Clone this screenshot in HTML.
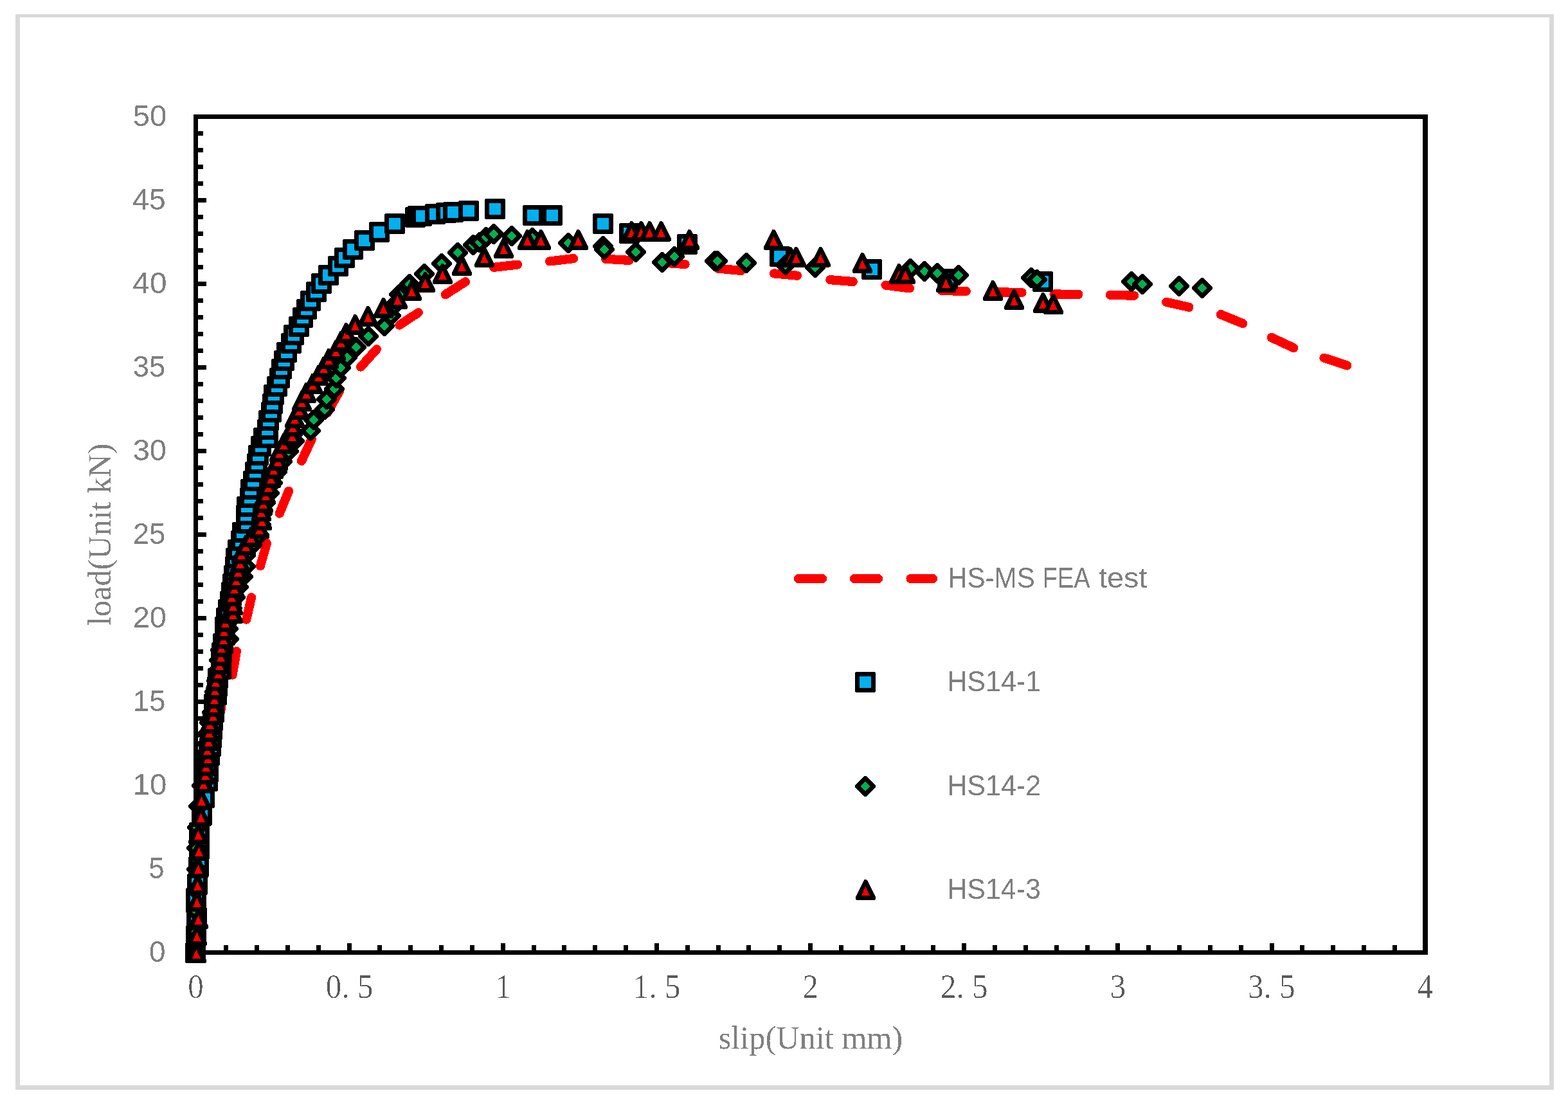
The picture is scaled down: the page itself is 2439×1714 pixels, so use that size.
<!DOCTYPE html>
<html lang="en">
<head>
<meta charset="utf-8">
<title>Load-slip curves: HS-MS FEA test vs HS14 specimens</title>
<style>
html,body{margin:0;padding:0;background:#fff;}
body{width:2439px;height:1714px;overflow:hidden;}
svg{display:block;}
</style>
</head>
<body>
<svg width="2439" height="1714" viewBox="0 0 2439 1714" role="img" aria-label="Load-slip curves">
<defs><filter id="bw" x="-5%" y="-20%" width="110%" height="140%" color-interpolation-filters="sRGB"><feComponentTransfer><feFuncA type="discrete" tableValues="0 1"/></feComponentTransfer></filter><filter id="bw2" x="-5%" y="-20%" width="110%" height="140%" color-interpolation-filters="sRGB"><feComponentTransfer><feFuncA type="discrete" tableValues="0 0 0 1"/></feComponentTransfer></filter></defs>
<rect width="2439" height="1714" fill="#fff"/>
<g fill="#d9d9d9" shape-rendering="crispEdges">
<rect x="24" y="22" width="2393" height="5"/>
<rect x="24" y="1688" width="2393" height="7"/>
<rect x="24" y="22" width="7" height="1673"/>
<rect x="2410" y="22" width="7" height="1673"/>
</g>
<g id="fea" fill="#f00" shape-rendering="crispEdges">
<path d="M344.9 1135.8L351.5 1099.3A7.1 7.1 0 0 0 337.5 1096.7L330.9 1133.2A7.1 7.1 0 0 0 344.9 1135.8Z"/>
<path d="M368.5 1050.9L374.9 1014.1A7.1 7.1 0 0 0 360.9 1011.7L354.5 1048.5A7.1 7.1 0 0 0 368.5 1050.9Z"/>
<path d="M390.0 965.6L398.1 930.2A7.1 7.1 0 0 0 384.3 927.0L376.2 962.4A7.1 7.1 0 0 0 390.0 965.6Z"/>
<path d="M411.7 882.3L421.8 846.9A7.1 7.1 0 0 0 408.1 843.0L398.0 878.4A7.1 7.1 0 0 0 411.7 882.3Z"/>
<path d="M441.4 801.2L455.7 766.4A7.1 7.1 0 0 0 442.5 761.0L428.2 795.8A7.1 7.1 0 0 0 441.4 801.2Z"/>
<path d="M475.3 720.3L491.3 686.0A7.1 7.1 0 0 0 478.5 679.9L462.5 714.2A7.1 7.1 0 0 0 475.3 720.3Z"/>
<path d="M515.5 645.4L534.0 612.0A7.1 7.1 0 0 0 521.5 605.1L503.0 638.5A7.1 7.1 0 0 0 515.5 645.4Z"/>
<path d="M566.0 575.8L591.4 547.6A7.1 7.1 0 0 0 580.9 538.1L555.5 566.3A7.1 7.1 0 0 0 566.0 575.8Z"/>
<path d="M624.8 511.9L655.1 491.8A7.1 7.1 0 0 0 647.3 480.0L617.0 500.1A7.1 7.1 0 0 0 624.8 511.9Z"/>
<path d="M696.6 464.1L727.8 444.2A7.1 7.1 0 0 0 720.2 432.2L689.0 452.1A7.1 7.1 0 0 0 696.6 464.1Z"/>
<path d="M768.6 422.9L806.1 418.6A7.1 7.1 0 0 0 804.5 404.5L767.0 408.8A7.1 7.1 0 0 0 768.6 422.9Z"/>
<path d="M855.5 413.5L893.1 409.1A7.1 7.1 0 0 0 891.5 395.0L853.9 399.4A7.1 7.1 0 0 0 855.5 413.5Z"/>
<path d="M941.6 409.8L978.2 412.0A7.1 7.1 0 0 0 979.0 397.8L942.4 395.6A7.1 7.1 0 0 0 941.6 409.8Z"/>
<path d="M1028.3 415.5L1065.8 418.1A7.1 7.1 0 0 0 1066.8 404.0L1029.3 401.4A7.1 7.1 0 0 0 1028.3 415.5Z"/>
<path d="M1115.3 424.5L1152.8 428.1A7.1 7.1 0 0 0 1154.2 414.0L1116.7 410.4A7.1 7.1 0 0 0 1115.3 424.5Z"/>
<path d="M1203.0 432.4L1239.8 435.8A7.1 7.1 0 0 0 1241.1 421.7L1204.3 418.3A7.1 7.1 0 0 0 1203.0 432.4Z"/>
<path d="M1290.2 442.2L1326.9 445.1A7.1 7.1 0 0 0 1328.1 431.0L1291.4 428.1A7.1 7.1 0 0 0 1290.2 442.2Z"/>
<path d="M1376.6 450.6L1414.0 455.4A7.1 7.1 0 0 0 1415.8 441.3L1378.4 436.5A7.1 7.1 0 0 0 1376.6 450.6Z"/>
<path d="M1464.7 459.1L1502.6 460.0A7.1 7.1 0 0 0 1503.0 445.8L1465.1 444.9A7.1 7.1 0 0 0 1464.7 459.1Z"/>
<path d="M1552.1 461.4L1589.4 462.1A7.1 7.1 0 0 0 1589.6 447.9L1552.3 447.2A7.1 7.1 0 0 0 1552.1 461.4Z"/>
<path d="M1639.4 464.6L1677.4 465.0A7.1 7.1 0 0 0 1677.6 450.8L1639.6 450.4A7.1 7.1 0 0 0 1639.4 464.6Z"/>
<path d="M1726.8 465.9L1763.9 466.8A7.1 7.1 0 0 0 1764.3 452.6L1727.2 451.7A7.1 7.1 0 0 0 1726.8 465.9Z"/>
<path d="M1811.9 476.6L1848.5 484.8A7.1 7.1 0 0 0 1851.6 471.0L1815.0 462.8A7.1 7.1 0 0 0 1811.9 476.6Z"/>
<path d="M1896.3 495.7L1930.5 509.7A7.1 7.1 0 0 0 1935.8 496.5L1901.6 482.5A7.1 7.1 0 0 0 1896.3 495.7Z"/>
<path d="M1974.5 531.3L2009.5 547.6A7.1 7.1 0 0 0 2015.4 534.7L1980.4 518.4A7.1 7.1 0 0 0 1974.5 531.3Z"/>
<path d="M2057.2 563.4L2093.3 575.2A7.1 7.1 0 0 0 2097.7 561.7L2061.6 549.9A7.1 7.1 0 0 0 2057.2 563.4Z"/>
</g>
<g id="axes" fill="#000" shape-rendering="crispEdges">
<rect x="301" y="178" width="7" height="1307"/>
<rect x="2213" y="178" width="8" height="1307"/>
<rect x="301" y="178" width="1920" height="7"/>
<rect x="301" y="1478" width="1920" height="7"/>
<rect x="308" y="1452" width="8" height="7"/>
<rect x="308" y="1426" width="8" height="7"/>
<rect x="308" y="1400" width="8" height="7"/>
<rect x="308" y="1374" width="8" height="7"/>
<rect x="308" y="1348" width="12.5" height="7"/>
<rect x="308" y="1322" width="8" height="7"/>
<rect x="308" y="1296" width="8" height="7"/>
<rect x="308" y="1270" width="8" height="7"/>
<rect x="308" y="1244" width="8" height="7"/>
<rect x="308" y="1218" width="12.5" height="7"/>
<rect x="308" y="1192" width="8" height="7"/>
<rect x="308" y="1166" width="8" height="7"/>
<rect x="308" y="1140" width="8" height="7"/>
<rect x="308" y="1114" width="8" height="7"/>
<rect x="308" y="1088" width="12.5" height="7"/>
<rect x="308" y="1062" width="8" height="7"/>
<rect x="308" y="1036" width="8" height="7"/>
<rect x="308" y="1010" width="8" height="7"/>
<rect x="308" y="984" width="8" height="7"/>
<rect x="308" y="958" width="12.5" height="7"/>
<rect x="308" y="932" width="8" height="7"/>
<rect x="308" y="906" width="8" height="7"/>
<rect x="308" y="880" width="8" height="7"/>
<rect x="308" y="854" width="8" height="7"/>
<rect x="308" y="828" width="12.5" height="7"/>
<rect x="308" y="802" width="8" height="7"/>
<rect x="308" y="776" width="8" height="7"/>
<rect x="308" y="750" width="8" height="7"/>
<rect x="308" y="724" width="8" height="7"/>
<rect x="308" y="698" width="12.5" height="7"/>
<rect x="308" y="672" width="8" height="7"/>
<rect x="308" y="646" width="8" height="7"/>
<rect x="308" y="620" width="8" height="7"/>
<rect x="308" y="594" width="8" height="7"/>
<rect x="308" y="568" width="12.5" height="7"/>
<rect x="308" y="542" width="8" height="7"/>
<rect x="308" y="516" width="8" height="7"/>
<rect x="308" y="490" width="8" height="7"/>
<rect x="308" y="464" width="8" height="7"/>
<rect x="308" y="438" width="12.5" height="7"/>
<rect x="308" y="412" width="8" height="7"/>
<rect x="308" y="386" width="8" height="7"/>
<rect x="308" y="360" width="8" height="7"/>
<rect x="308" y="334" width="8" height="7"/>
<rect x="308" y="308" width="12.5" height="7"/>
<rect x="308" y="282" width="8" height="7"/>
<rect x="308" y="256" width="8" height="7"/>
<rect x="308" y="230" width="8" height="7"/>
<rect x="308" y="204" width="8" height="7"/>
<rect x="348" y="1470" width="7" height="8"/>
<rect x="396" y="1470" width="7" height="8"/>
<rect x="444" y="1470" width="7" height="8"/>
<rect x="492" y="1470" width="7" height="8"/>
<rect x="540" y="1467" width="7" height="11"/>
<rect x="587" y="1470" width="7" height="8"/>
<rect x="635" y="1470" width="7" height="8"/>
<rect x="683" y="1470" width="7" height="8"/>
<rect x="731" y="1470" width="7" height="8"/>
<rect x="779" y="1467" width="7" height="11"/>
<rect x="827" y="1470" width="7" height="8"/>
<rect x="874" y="1470" width="7" height="8"/>
<rect x="922" y="1470" width="7" height="8"/>
<rect x="970" y="1470" width="7" height="8"/>
<rect x="1018" y="1467" width="7" height="11"/>
<rect x="1066" y="1470" width="7" height="8"/>
<rect x="1114" y="1470" width="7" height="8"/>
<rect x="1161" y="1470" width="7" height="8"/>
<rect x="1209" y="1470" width="7" height="8"/>
<rect x="1257" y="1467" width="7" height="11"/>
<rect x="1305" y="1470" width="7" height="8"/>
<rect x="1353" y="1470" width="7" height="8"/>
<rect x="1401" y="1470" width="7" height="8"/>
<rect x="1448" y="1470" width="7" height="8"/>
<rect x="1496" y="1467" width="7" height="11"/>
<rect x="1544" y="1470" width="7" height="8"/>
<rect x="1592" y="1470" width="7" height="8"/>
<rect x="1640" y="1470" width="7" height="8"/>
<rect x="1688" y="1470" width="7" height="8"/>
<rect x="1735" y="1467" width="7" height="11"/>
<rect x="1783" y="1470" width="7" height="8"/>
<rect x="1831" y="1470" width="7" height="8"/>
<rect x="1879" y="1470" width="7" height="8"/>
<rect x="1927" y="1470" width="7" height="8"/>
<rect x="1975" y="1467" width="7" height="11"/>
<rect x="2022" y="1470" width="7" height="8"/>
<rect x="2070" y="1470" width="7" height="8"/>
<rect x="2118" y="1470" width="7" height="8"/>
<rect x="2166" y="1470" width="7" height="8"/>
</g>
<g id="s1" fill="#00b0f0" stroke="#000" stroke-width="7" stroke-linejoin="round" shape-rendering="crispEdges">
<path d="M291.4 1469.3h25.3v25.3h-25.3z"/>
<path d="M292.4 1442.3h25.3v25.3h-25.3z"/>
<path d="M293.4 1415.3h25.3v25.3h-25.3z"/>
<path d="M292.4 1388.3h25.3v25.3h-25.3z"/>
<path d="M294.4 1362.3h25.3v25.3h-25.3z"/>
<path d="M296.4 1335.3h25.3v25.3h-25.3z"/>
<path d="M297.4 1308.3h25.3v25.3h-25.3z"/>
<path d="M297.4 1282.3h25.3v25.3h-25.3z"/>
<path d="M301.4 1255.3h25.3v25.3h-25.3z"/>
<path d="M305.4 1228.3h25.3v25.3h-25.3z"/>
<path d="M310.4 1202.3h25.3v25.3h-25.3z"/>
<path d="M311.4 1188.3h25.3v25.3h-25.3z"/>
<path d="M311.4 1175.3h25.3v25.3h-25.3z"/>
<path d="M313.4 1162.3h25.3v25.3h-25.3z"/>
<path d="M315.4 1148.3h25.3v25.3h-25.3z"/>
<path d="M316.4 1135.3h25.3v25.3h-25.3z"/>
<path d="M317.4 1122.3h25.3v25.3h-25.3z"/>
<path d="M318.4 1108.3h25.3v25.3h-25.3z"/>
<path d="M320.4 1095.3h25.3v25.3h-25.3z"/>
<path d="M320.4 1082.3h25.3v25.3h-25.3z"/>
<path d="M324.4 1068.3h25.3v25.3h-25.3z"/>
<path d="M325.4 1055.3h25.3v25.3h-25.3z"/>
<path d="M326.4 1042.3h25.3v25.3h-25.3z"/>
<path d="M331.4 1028.3h25.3v25.3h-25.3z"/>
<path d="M331.4 1015.4h25.3v25.3h-25.3z"/>
<path d="M332.4 1002.4h25.3v25.3h-25.3z"/>
<path d="M334.4 988.4h25.3v25.3h-25.3z"/>
<path d="M337.4 975.4h25.3v25.3h-25.3z"/>
<path d="M337.4 962.4h25.3v25.3h-25.3z"/>
<path d="M339.4 948.4h25.3v25.3h-25.3z"/>
<path d="M342.4 935.4h25.3v25.3h-25.3z"/>
<path d="M345.4 922.4h25.3v25.3h-25.3z"/>
<path d="M347.4 908.4h25.3v25.3h-25.3z"/>
<path d="M349.4 895.4h25.3v25.3h-25.3z"/>
<path d="M351.4 882.4h25.3v25.3h-25.3z"/>
<path d="M353.4 868.4h25.3v25.3h-25.3z"/>
<path d="M354.4 855.4h25.3v25.3h-25.3z"/>
<path d="M357.4 842.4h25.3v25.3h-25.3z"/>
<path d="M362.4 828.4h25.3v25.3h-25.3z"/>
<path d="M364.4 815.4h25.3v25.3h-25.3z"/>
<path d="M371.4 801.4h25.3v25.3h-25.3z"/>
<path d="M370.4 788.4h25.3v25.3h-25.3z"/>
<path d="M371.4 775.4h25.3v25.3h-25.3z"/>
<path d="M376.4 761.4h25.3v25.3h-25.3z"/>
<path d="M377.4 748.4h25.3v25.3h-25.3z"/>
<path d="M381.4 735.4h25.3v25.3h-25.3z"/>
<path d="M384.4 721.4h25.3v25.3h-25.3z"/>
<path d="M387.4 708.4h25.3v25.3h-25.3z"/>
<path d="M389.4 695.4h25.3v25.3h-25.3z"/>
<path d="M393.4 681.4h25.3v25.3h-25.3z"/>
<path d="M397.4 668.4h25.3v25.3h-25.3z"/>
<path d="M404.4 668.4h25.3v25.3h-25.3z"/>
<path d="M403.4 655.4h25.3v25.3h-25.3z"/>
<path d="M405.4 641.4h25.3v25.3h-25.3z"/>
<path d="M409.4 628.4h25.3v25.3h-25.3z"/>
<path d="M411.4 615.4h25.3v25.3h-25.3z"/>
<path d="M413.4 601.4h25.3v25.3h-25.3z"/>
<path d="M418.4 588.4h25.3v25.3h-25.3z"/>
<path d="M422.4 575.4h25.3v25.3h-25.3z"/>
<path d="M425.4 561.4h25.3v25.3h-25.3z"/>
<path d="M429.4 548.4h25.3v25.3h-25.3z"/>
<path d="M433.4 535.4h25.3v25.3h-25.3z"/>
<path d="M440.4 521.4h25.3v25.3h-25.3z"/>
<path d="M444.4 508.4h25.3v25.3h-25.3z"/>
<path d="M452.4 495.4h25.3v25.3h-25.3z"/>
<path d="M458.4 481.4h25.3v25.3h-25.3z"/>
<path d="M464.4 468.4h25.3v25.3h-25.3z"/>
<path d="M470.4 455.4h25.3v25.3h-25.3z"/>
<path d="M479.4 441.4h25.3v25.3h-25.3z"/>
<path d="M487.4 428.4h25.3v25.3h-25.3z"/>
<path d="M498.4 415.4h25.3v25.3h-25.3z"/>
<path d="M513.4 401.4h25.3v25.3h-25.3z"/>
<path d="M523.4 388.4h25.3v25.3h-25.3z"/>
<path d="M536.4 375.4h25.3v25.3h-25.3z"/>
<path d="M554.4 361.4h25.3v25.3h-25.3z"/>
<path d="M577.4 348.4h25.3v25.3h-25.3z"/>
<path d="M601.4 335.4h25.3v25.3h-25.3z"/>
<path d="M633.4 325.4h25.3v25.3h-25.3z"/>
<path d="M637.4 323.4h25.3v25.3h-25.3z"/>
<path d="M643.4 323.4h25.3v25.3h-25.3z"/>
<path d="M664.4 320.4h25.3v25.3h-25.3z"/>
<path d="M681.4 318.4h25.3v25.3h-25.3z"/>
<path d="M692.4 317.4h25.3v25.3h-25.3z"/>
<path d="M716.4 315.4h25.3v25.3h-25.3z"/>
<path d="M757.4 312.4h25.3v25.3h-25.3z"/>
<path d="M816.4 322.4h25.3v25.3h-25.3z"/>
<path d="M846.4 322.4h25.3v25.3h-25.3z"/>
<path d="M925.4 335.4h25.3v25.3h-25.3z"/>
<path d="M966.4 350.4h25.3v25.3h-25.3z"/>
<path d="M1056.3 367.4h25.3v25.3h-25.3z"/>
<path d="M1200.3 386.4h25.3v25.3h-25.3z"/>
<path d="M1343.3 406.4h25.3v25.3h-25.3z"/>
<path d="M1461.3 421.4h25.3v25.3h-25.3z"/>
<path d="M1609.3 425.4h25.3v25.3h-25.3z"/>
</g>
<g id="s2" fill="#00b050" stroke="#000" stroke-width="7" stroke-linejoin="round" shape-rendering="crispEdges">
<path d="M304 1469.3l12.7 12.7l-12.7 12.7l-12.7 -12.7z"/>
<path d="M305 1436.3l12.7 12.7l-12.7 12.7l-12.7 -12.7z"/>
<path d="M305 1404.3l12.7 12.7l-12.7 12.7l-12.7 -12.7z"/>
<path d="M305 1371.3l12.7 12.7l-12.7 12.7l-12.7 -12.7z"/>
<path d="M306 1339.3l12.7 12.7l-12.7 12.7l-12.7 -12.7z"/>
<path d="M306 1306.3l12.7 12.7l-12.7 12.7l-12.7 -12.7z"/>
<path d="M307 1274.3l12.7 12.7l-12.7 12.7l-12.7 -12.7z"/>
<path d="M309 1241.3l12.7 12.7l-12.7 12.7l-12.7 -12.7z"/>
<path d="M314 1209.3l12.7 12.7l-12.7 12.7l-12.7 -12.7z"/>
<path d="M318 1176.3l12.7 12.7l-12.7 12.7l-12.7 -12.7z"/>
<path d="M322 1144.3l12.7 12.7l-12.7 12.7l-12.7 -12.7z"/>
<path d="M324 1127.3l12.7 12.7l-12.7 12.7l-12.7 -12.7z"/>
<path d="M326 1111.3l12.7 12.7l-12.7 12.7l-12.7 -12.7z"/>
<path d="M330 1095.3l12.7 12.7l-12.7 12.7l-12.7 -12.7z"/>
<path d="M332 1079.3l12.7 12.7l-12.7 12.7l-12.7 -12.7z"/>
<path d="M334 1063.3l12.7 12.7l-12.7 12.7l-12.7 -12.7z"/>
<path d="M337 1046.3l12.7 12.7l-12.7 12.7l-12.7 -12.7z"/>
<path d="M339 1030.3l12.7 12.7l-12.7 12.7l-12.7 -12.7z"/>
<path d="M341 1014.4l12.7 12.7l-12.7 12.7l-12.7 -12.7z"/>
<path d="M343 998.4l12.7 12.7l-12.7 12.7l-12.7 -12.7z"/>
<path d="M356 981.4l12.7 12.7l-12.7 12.7l-12.7 -12.7z"/>
<path d="M355 965.4l12.7 12.7l-12.7 12.7l-12.7 -12.7z"/>
<path d="M360 949.4l12.7 12.7l-12.7 12.7l-12.7 -12.7z"/>
<path d="M361 933.4l12.7 12.7l-12.7 12.7l-12.7 -12.7z"/>
<path d="M366 916.4l12.7 12.7l-12.7 12.7l-12.7 -12.7z"/>
<path d="M371 900.4l12.7 12.7l-12.7 12.7l-12.7 -12.7z"/>
<path d="M378 884.4l12.7 12.7l-12.7 12.7l-12.7 -12.7z"/>
<path d="M382 868.4l12.7 12.7l-12.7 12.7l-12.7 -12.7z"/>
<path d="M382 851.4l12.7 12.7l-12.7 12.7l-12.7 -12.7z"/>
<path d="M392 835.4l12.7 12.7l-12.7 12.7l-12.7 -12.7z"/>
<path d="M403 819.4l12.7 12.7l-12.7 12.7l-12.7 -12.7z"/>
<path d="M406 803.4l12.7 12.7l-12.7 12.7l-12.7 -12.7z"/>
<path d="M408 786.4l12.7 12.7l-12.7 12.7l-12.7 -12.7z"/>
<path d="M412 770.4l12.7 12.7l-12.7 12.7l-12.7 -12.7z"/>
<path d="M419 754.4l12.7 12.7l-12.7 12.7l-12.7 -12.7z"/>
<path d="M424 738.4l12.7 12.7l-12.7 12.7l-12.7 -12.7z"/>
<path d="M431 721.4l12.7 12.7l-12.7 12.7l-12.7 -12.7z"/>
<path d="M439 705.4l12.7 12.7l-12.7 12.7l-12.7 -12.7z"/>
<path d="M449 689.4l12.7 12.7l-12.7 12.7l-12.7 -12.7z"/>
<path d="M458 673.4l12.7 12.7l-12.7 12.7l-12.7 -12.7z"/>
<path d="M483 657.4l12.7 12.7l-12.7 12.7l-12.7 -12.7z"/>
<path d="M488 640.4l12.7 12.7l-12.7 12.7l-12.7 -12.7z"/>
<path d="M505 624.4l12.7 12.7l-12.7 12.7l-12.7 -12.7z"/>
<path d="M508 608.4l12.7 12.7l-12.7 12.7l-12.7 -12.7z"/>
<path d="M520 592.4l12.7 12.7l-12.7 12.7l-12.7 -12.7z"/>
<path d="M523 575.4l12.7 12.7l-12.7 12.7l-12.7 -12.7z"/>
<path d="M530 559.4l12.7 12.7l-12.7 12.7l-12.7 -12.7z"/>
<path d="M540 543.4l12.7 12.7l-12.7 12.7l-12.7 -12.7z"/>
<path d="M554 527.4l12.7 12.7l-12.7 12.7l-12.7 -12.7z"/>
<path d="M573 510.4l12.7 12.7l-12.7 12.7l-12.7 -12.7z"/>
<path d="M598 494.4l12.7 12.7l-12.7 12.7l-12.7 -12.7z"/>
<path d="M608 478.4l12.7 12.7l-12.7 12.7l-12.7 -12.7z"/>
<path d="M613 462.4l12.7 12.7l-12.7 12.7l-12.7 -12.7z"/>
<path d="M621 445.4l12.7 12.7l-12.7 12.7l-12.7 -12.7z"/>
<path d="M637 429.4l12.7 12.7l-12.7 12.7l-12.7 -12.7z"/>
<path d="M660 413.4l12.7 12.7l-12.7 12.7l-12.7 -12.7z"/>
<path d="M687 397.4l12.7 12.7l-12.7 12.7l-12.7 -12.7z"/>
<path d="M712 380.4l12.7 12.7l-12.7 12.7l-12.7 -12.7z"/>
<path d="M736 368.4l12.7 12.7l-12.7 12.7l-12.7 -12.7z"/>
<path d="M746 364.4l12.7 12.7l-12.7 12.7l-12.7 -12.7z"/>
<path d="M756 356.4l12.7 12.7l-12.7 12.7l-12.7 -12.7z"/>
<path d="M768 351.4l12.7 12.7l-12.7 12.7l-12.7 -12.7z"/>
<path d="M796 354.4l12.7 12.7l-12.7 12.7l-12.7 -12.7z"/>
<path d="M828 357.4l12.7 12.7l-12.7 12.7l-12.7 -12.7z"/>
<path d="M884 365.4l12.7 12.7l-12.7 12.7l-12.7 -12.7z"/>
<path d="M938 370.4l12.7 12.7l-12.7 12.7l-12.7 -12.7z"/>
<path d="M940 375.4l12.7 12.7l-12.7 12.7l-12.7 -12.7z"/>
<path d="M989 379.4l12.7 12.7l-12.7 12.7l-12.7 -12.7z"/>
<path d="M1030 395.4l12.7 12.7l-12.7 12.7l-12.7 -12.7z"/>
<path d="M1049 386.4l12.7 12.7l-12.7 12.7l-12.7 -12.7z"/>
<path d="M1112 393.4l12.7 12.7l-12.7 12.7l-12.7 -12.7z"/>
<path d="M1116 393.4l12.7 12.7l-12.7 12.7l-12.7 -12.7z"/>
<path d="M1161 396.4l12.7 12.7l-12.7 12.7l-12.7 -12.7z"/>
<path d="M1222 399.4l12.7 12.7l-12.7 12.7l-12.7 -12.7z"/>
<path d="M1268 403.4l12.7 12.7l-12.7 12.7l-12.7 -12.7z"/>
<path d="M1416 405.4l12.7 12.7l-12.7 12.7l-12.7 -12.7z"/>
<path d="M1438 409.4l12.7 12.7l-12.7 12.7l-12.7 -12.7z"/>
<path d="M1458 412.4l12.7 12.7l-12.7 12.7l-12.7 -12.7z"/>
<path d="M1491 415.4l12.7 12.7l-12.7 12.7l-12.7 -12.7z"/>
<path d="M1604 419.4l12.7 12.7l-12.7 12.7l-12.7 -12.7z"/>
<path d="M1613 422.4l12.7 12.7l-12.7 12.7l-12.7 -12.7z"/>
<path d="M1760 425.4l12.7 12.7l-12.7 12.7l-12.7 -12.7z"/>
<path d="M1777 429.4l12.7 12.7l-12.7 12.7l-12.7 -12.7z"/>
<path d="M1834 432.4l12.7 12.7l-12.7 12.7l-12.7 -12.7z"/>
<path d="M1870 435.4l12.7 12.7l-12.7 12.7l-12.7 -12.7z"/>
</g>
<g id="s3" fill="#f00" stroke="#000" stroke-width="7" stroke-linejoin="round" shape-rendering="crispEdges">
<path d="M305.5 1469.5l12.3 25h-24.6z"/>
<path d="M306.5 1442.5l12.3 25h-24.6z"/>
<path d="M308.5 1416.5l12.3 25h-24.6z"/>
<path d="M306.5 1389.5l12.3 25h-24.6z"/>
<path d="M307.5 1363.5l12.3 25h-24.6z"/>
<path d="M308.5 1337.5l12.3 25h-24.6z"/>
<path d="M309.5 1310.5l12.3 25h-24.6z"/>
<path d="M308.5 1284.5l12.3 25h-24.6z"/>
<path d="M312.5 1257.5l12.3 25h-24.6z"/>
<path d="M313.5 1231.5l12.3 25h-24.6z"/>
<path d="M316.5 1205.5l12.3 25h-24.6z"/>
<path d="M319.5 1191.5l12.3 25h-24.6z"/>
<path d="M320.5 1178.5l12.3 25h-24.6z"/>
<path d="M323.5 1165.5l12.3 25h-24.6z"/>
<path d="M322.5 1152.5l12.3 25h-24.6z"/>
<path d="M324.5 1139.5l12.3 25h-24.6z"/>
<path d="M325.5 1125.5l12.3 25h-24.6z"/>
<path d="M326.5 1112.5l12.3 25h-24.6z"/>
<path d="M331.5 1099.5l12.3 25h-24.6z"/>
<path d="M332.5 1086.5l12.3 25h-24.6z"/>
<path d="M333.5 1073.5l12.3 25h-24.6z"/>
<path d="M334.5 1059.5l12.3 25h-24.6z"/>
<path d="M335.5 1046.5l12.3 25h-24.6z"/>
<path d="M339.5 1033.5l12.3 25h-24.6z"/>
<path d="M341.5 1020.5l12.3 25h-24.6z"/>
<path d="M343.5 1007.5l12.3 25h-24.6z"/>
<path d="M344.5 993.5l12.3 25h-24.6z"/>
<path d="M347.5 980.5l12.3 25h-24.6z"/>
<path d="M348.5 967.5l12.3 25h-24.6z"/>
<path d="M350.5 954.5l12.3 25h-24.6z"/>
<path d="M362.5 941.5l12.3 25h-24.6z"/>
<path d="M362.5 928.5l12.3 25h-24.6z"/>
<path d="M360.5 914.5l12.3 25h-24.6z"/>
<path d="M364.5 901.5l12.3 25h-24.6z"/>
<path d="M367.5 888.5l12.3 25h-24.6z"/>
<path d="M370.5 875.5l12.3 25h-24.6z"/>
<path d="M373.5 862.5l12.3 25h-24.6z"/>
<path d="M375.5 848.5l12.3 25h-24.6z"/>
<path d="M382.5 835.5l12.3 25h-24.6z"/>
<path d="M390.5 822.5l12.3 25h-24.6z"/>
<path d="M403.5 809.5l12.3 25h-24.6z"/>
<path d="M407.5 796.5l12.3 25h-24.6z"/>
<path d="M406.5 782.5l12.3 25h-24.6z"/>
<path d="M409.5 769.5l12.3 25h-24.6z"/>
<path d="M413.5 756.5l12.3 25h-24.6z"/>
<path d="M417.5 743.5l12.3 25h-24.6z"/>
<path d="M421.5 730.5l12.3 25h-24.6z"/>
<path d="M425.5 716.5l12.3 25h-24.6z"/>
<path d="M432.5 703.5l12.3 25h-24.6z"/>
<path d="M434.5 690.5l12.3 25h-24.6z"/>
<path d="M441.5 677.5l12.3 25h-24.6z"/>
<path d="M454.5 664.5l12.3 25h-24.6z"/>
<path d="M455.5 650.5l12.3 25h-24.6z"/>
<path d="M458.5 637.5l12.3 25h-24.6z"/>
<path d="M465.5 624.5l12.3 25h-24.6z"/>
<path d="M469.5 611.5l12.3 25h-24.6z"/>
<path d="M476.5 598.5l12.3 25h-24.6z"/>
<path d="M486.5 584.5l12.3 25h-24.6z"/>
<path d="M495.5 571.5l12.3 25h-24.6z"/>
<path d="M503.5 558.5l12.3 25h-24.6z"/>
<path d="M511.5 545.5l12.3 25h-24.6z"/>
<path d="M522.5 532.5l12.3 25h-24.6z"/>
<path d="M530.5 518.5l12.3 25h-24.6z"/>
<path d="M538.5 505.5l12.3 25h-24.6z"/>
<path d="M552.5 492.5l12.3 25h-24.6z"/>
<path d="M572.5 479.5l12.3 25h-24.6z"/>
<path d="M596.5 466.5l12.3 25h-24.6z"/>
<path d="M618.5 452.5l12.3 25h-24.6z"/>
<path d="M640.5 439.5l12.3 25h-24.6z"/>
<path d="M661.5 426.5l12.3 25h-24.6z"/>
<path d="M688.5 413.5l12.3 25h-24.6z"/>
<path d="M718.5 400.5l12.3 25h-24.6z"/>
<path d="M753.5 387.5l12.3 25h-24.6z"/>
<path d="M783.5 373.5l12.3 25h-24.6z"/>
<path d="M820.5 360.5l12.3 25h-24.6z"/>
<path d="M841.5 360.5l12.3 25h-24.6z"/>
<path d="M899.5 360.5l12.3 25h-24.6z"/>
<path d="M982.5 347.5l12.3 25h-24.6z"/>
<path d="M997.5 347.5l12.3 25h-24.6z"/>
<path d="M1010.5 347.5l12.3 25h-24.6z"/>
<path d="M1028.5 347.5l12.3 25h-24.6z"/>
<path d="M1072.5 360.5l12.3 25h-24.6z"/>
<path d="M1203.5 360.5l12.3 25h-24.6z"/>
<path d="M1229.5 387.5l12.3 25h-24.6z"/>
<path d="M1238.5 387.5l12.3 25h-24.6z"/>
<path d="M1276.5 387.5l12.3 25h-24.6z"/>
<path d="M1341.5 396.5l12.3 25h-24.6z"/>
<path d="M1398.5 413.5l12.3 25h-24.6z"/>
<path d="M1408.5 413.5l12.3 25h-24.6z"/>
<path d="M1471.5 426.5l12.3 25h-24.6z"/>
<path d="M1544.5 439.5l12.3 25h-24.6z"/>
<path d="M1577.5 453.5l12.3 25h-24.6z"/>
<path d="M1622.5 458.5l12.3 25h-24.6z"/>
<path d="M1638.5 460.5l12.3 25h-24.6z"/>
</g>
<g id="legend" shape-rendering="crispEdges">
<path d="M1242.0 907.1L1279.0 907.1A7.1 7.1 0 0 0 1279.0 892.9L1242.0 892.9A7.1 7.1 0 0 0 1242.0 907.1Z" fill="#f00"/>
<path d="M1329.0 907.1L1366.0 907.1A7.1 7.1 0 0 0 1366.0 892.9L1329.0 892.9A7.1 7.1 0 0 0 1329.0 907.1Z" fill="#f00"/>
<path d="M1416.5 907.1L1451.0 907.1A7.1 7.1 0 0 0 1451.0 892.9L1416.5 892.9A7.1 7.1 0 0 0 1416.5 907.1Z" fill="#f00"/>
<path d="M1333.3 1048.3h25.3v25.3h-25.3z" fill="#00b0f0" stroke="#000" stroke-width="7" stroke-linejoin="round"/>
<path d="M1346 1210.3l12.7 12.7l-12.7 12.7l-12.7 -12.7z" fill="#00b050" stroke="#000" stroke-width="7" stroke-linejoin="round"/>
<path d="M1346.5 1371.5l12.3 25h-24.6z" fill="#f00" stroke="#000" stroke-width="7" stroke-linejoin="round"/>
</g>
<g id="ylabels" filter="url(#bw)" font-family="'Liberation Sans', sans-serif" fill="#7f7f7f">
<text x="206.7" y="196.4" font-size="45.71" textLength="52.58" lengthAdjust="spacingAndGlyphs">50</text>
<text x="206.3" y="326.4" font-size="45.71" textLength="51.51" lengthAdjust="spacingAndGlyphs">45</text>
<text x="206.3" y="456.4" font-size="45.71" textLength="53.19" lengthAdjust="spacingAndGlyphs">40</text>
<text x="206.8" y="586.4" font-size="45.71" textLength="50.44" lengthAdjust="spacingAndGlyphs">35</text>
<text x="206.7" y="716.4" font-size="45.71" textLength="52.21" lengthAdjust="spacingAndGlyphs">30</text>
<text x="206.7" y="846.4" font-size="45.71" textLength="50.66" lengthAdjust="spacingAndGlyphs">25</text>
<text x="206.7" y="976.4" font-size="45.71" textLength="52.16" lengthAdjust="spacingAndGlyphs">20</text>
<text x="207.1" y="1106.4" font-size="45.71" textLength="50.41" lengthAdjust="spacingAndGlyphs">15</text>
<text x="206.6" y="1236.4" font-size="45.71" textLength="52.85" lengthAdjust="spacingAndGlyphs">10</text>
<text x="231.6" y="1366.4" font-size="45.71" textLength="24.01" lengthAdjust="spacingAndGlyphs">5</text>
<text x="232.0" y="1496.4" font-size="45.71" textLength="25.46" lengthAdjust="spacingAndGlyphs">0</text>
</g>
<g id="xlabels" filter="url(#bw2)" font-family="'Liberation Serif', serif" font-size="52" fill="#595959" text-anchor="middle" transform="scale(0.94 1)">
<text x="323.94" y="1552.3">0</text>
<text x="552.03 571.88 604.48" y="1552.3">0.5</text>
<text x="832.58" y="1552.3">1</text>
<text x="1060.68 1080.52 1113.13" y="1552.3">1.5</text>
<text x="1341.22" y="1552.3">2</text>
<text x="1569.32 1589.16 1621.77" y="1552.3">2.5</text>
<text x="1849.87" y="1552.3">3</text>
<text x="2077.97 2097.81 2130.41" y="1552.3">3.5</text>
<text x="2358.51" y="1552.3">4</text>
</g>
<g id="titles" filter="url(#bw)" font-family="'Liberation Serif', serif" fill="#808080">
<text x="1117.8" y="1630.9" font-size="51.17" textLength="286.42" lengthAdjust="spacingAndGlyphs">slip(Unit mm)</text>
<text transform="translate(171.7 973) rotate(-90)" font-size="51.5" textLength="283.52" lengthAdjust="spacingAndGlyphs">load(Unit kN)</text>
</g>
<g id="legendtext" filter="url(#bw)" font-family="'Liberation Sans', sans-serif" fill="#7f7f7f">
<text y="914.3" font-size="44.46"><tspan x="1474.2" textLength="135.5" lengthAdjust="spacingAndGlyphs">HS-MS</tspan> <tspan x="1621.5" textLength="72.2" lengthAdjust="spacingAndGlyphs">FEA</tspan> <tspan x="1709" textLength="75.3" lengthAdjust="spacingAndGlyphs">test</tspan></text>
<text x="1473.2" y="1074.7" font-size="44.46" textLength="145.98" lengthAdjust="spacingAndGlyphs">HS14-1</text>
<text x="1473.2" y="1237.3" font-size="44.46" textLength="145.98" lengthAdjust="spacingAndGlyphs">HS14-2</text>
<text x="1473.3" y="1398.4" font-size="44.46" textLength="145.53" lengthAdjust="spacingAndGlyphs">HS14-3</text>
</g>
</svg>
</body>
</html>
